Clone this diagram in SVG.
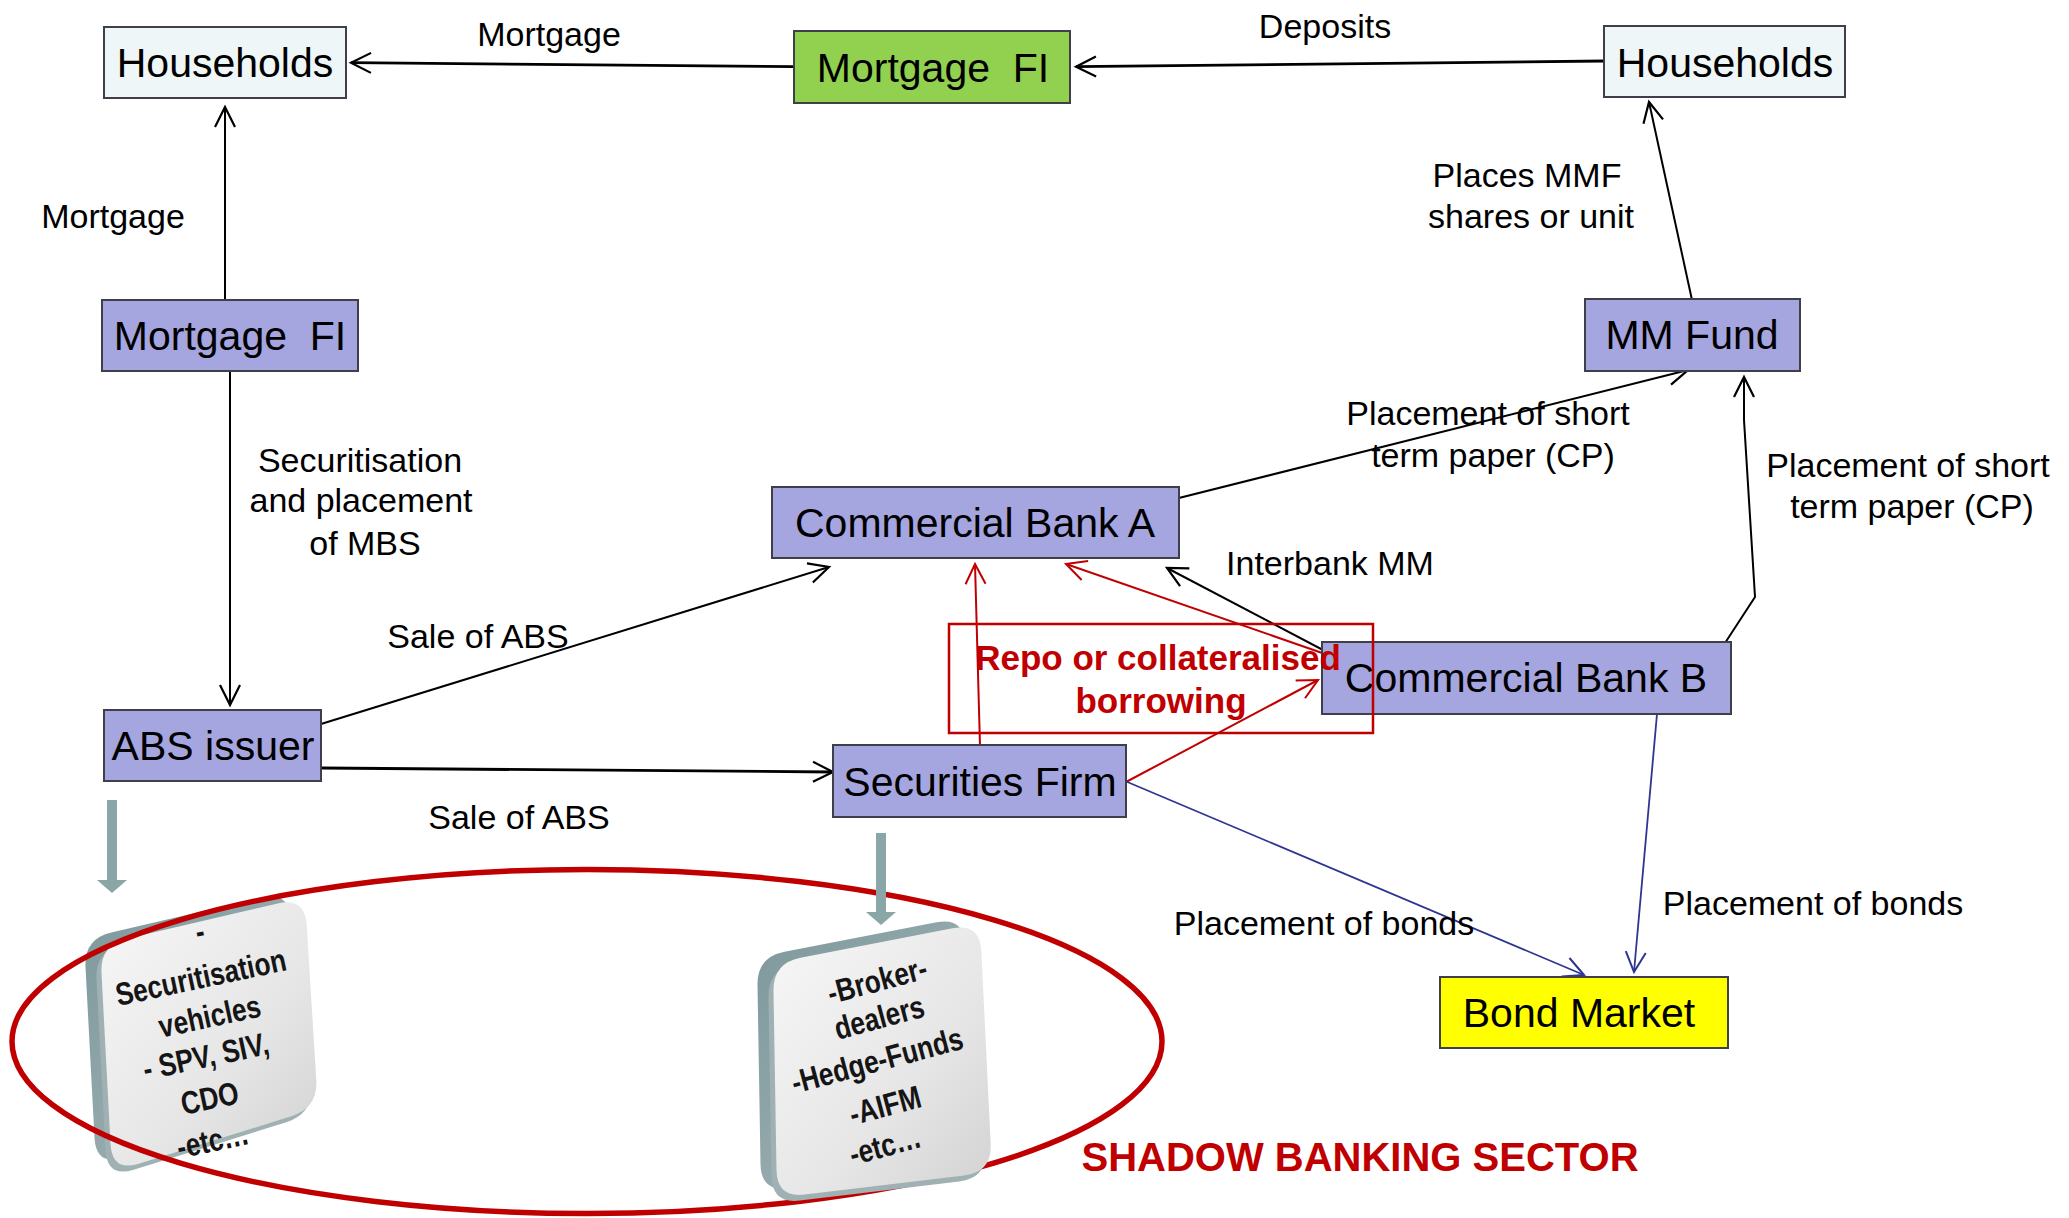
<svg xmlns="http://www.w3.org/2000/svg" width="2069" height="1218" viewBox="0 0 2069 1218">
<style>
.node{stroke:#3f3f4a;stroke-width:2}
.pur{fill:#a5a5df}
.hh{fill:#eef6f7}
.nt{font-family:"Liberation Sans",Arial,sans-serif;font-size:41px;fill:#000;text-anchor:middle;white-space:pre}
.lb{font-family:"Liberation Sans",Arial,sans-serif;font-size:34px;fill:#000;text-anchor:middle}
.red{font-family:"Liberation Sans",Arial,sans-serif;font-weight:bold;fill:#c00000;text-anchor:middle}
.ct{font-family:"Liberation Sans",Arial,sans-serif;font-weight:bold;font-size:32px;fill:#151515;text-anchor:middle}
.ck{fill:none;stroke:#000;stroke-width:2}
.ckt{fill:none;stroke:#000;stroke-width:2.8}
.cr{fill:none;stroke:#c00000;stroke-width:2}
.cb{fill:none;stroke:#2e3592;stroke-width:1.8}
</style>
<defs>
<marker id="ak" viewBox="-24 -13 27 26" refX="0" refY="0" markerWidth="27" markerHeight="26" markerUnits="userSpaceOnUse" orient="auto"><path d="M-20,-10 L0,0 L-20,10" fill="none" stroke="#000" stroke-width="2.2"/></marker>
<marker id="ar" viewBox="-24 -13 27 26" refX="0" refY="0" markerWidth="27" markerHeight="26" markerUnits="userSpaceOnUse" orient="auto"><path d="M-20,-10 L0,0 L-20,10" fill="none" stroke="#c00000" stroke-width="2"/></marker>
<marker id="ab" viewBox="-24 -13 27 26" refX="0" refY="0" markerWidth="27" markerHeight="26" markerUnits="userSpaceOnUse" orient="auto"><path d="M-20,-10 L0,0 L-20,10" fill="none" stroke="#2e3592" stroke-width="2"/></marker>
<linearGradient id="face" x1="0" y1="0" x2="1" y2="1"><stop offset="0" stop-color="#f7f7f7"/><stop offset="0.6" stop-color="#e6e6e6"/><stop offset="1" stop-color="#d2d2d2"/></linearGradient>
<linearGradient id="edge" x1="0" y1="0" x2="1" y2="1"><stop offset="0" stop-color="#7d989b"/><stop offset="1" stop-color="#a9b9bb"/></linearGradient>
</defs>

<g id="cards-left">
<path transform="translate(-16,-6)" d="M127.3,938.6 L277.7,903.4 Q305,897 306.7,924.9 L316.3,1080.1 Q318,1108 291.3,1116.3 L138.7,1163.7 Q112,1172 110.5,1144 L101.5,973 Q100,945 127.3,938.6 Z" fill="url(#edge)"/>
<path transform="translate(-5,6)" d="M127.3,938.6 L277.7,903.4 Q305,897 306.7,924.9 L316.3,1080.1 Q318,1108 291.3,1116.3 L138.7,1163.7 Q112,1172 110.5,1144 L101.5,973 Q100,945 127.3,938.6 Z" fill="#9fb1b3"/>
<path d="M127.3,938.6 L277.7,903.4 Q305,897 306.7,924.9 L316.3,1080.1 Q318,1108 291.3,1116.3 L138.7,1163.7 Q112,1172 110.5,1144 L101.5,973 Q100,945 127.3,938.6 Z" fill="url(#face)"/>
<text class="ct" transform="translate(202,942) rotate(-12) scale(0.82,1)">-</text>
<text class="ct" transform="translate(203,988) rotate(-12) scale(0.82,1)">Securitisation</text>
<text class="ct" transform="translate(212,1027) rotate(-12) scale(0.82,1)">vehicles</text>
<text class="ct" transform="translate(208,1067) rotate(-12) scale(0.82,1)">- SPV, SIV,</text>
<text class="ct" transform="translate(212,1109) rotate(-12) scale(0.82,1)">CDO</text>
<text class="ct" transform="translate(215,1151) rotate(-12) scale(0.82,1)">-etc…</text>
</g>

<ellipse id="shadow-ellipse" cx="587" cy="1041.5" rx="575" ry="172" fill="none" stroke="#c00000" stroke-width="5.5"/>

<g id="cards-right">
<path transform="translate(-16,-6)" d="M800.5,957.7 L952.5,928.3 Q980,923 981.3,951 L990.7,1144 Q992,1172 964.2,1175.4 L804.8,1194.6 Q777,1198 776.5,1170 L773.5,991 Q773,963 800.5,957.7 Z" fill="url(#edge)"/>
<path transform="translate(-5,6)" d="M800.5,957.7 L952.5,928.3 Q980,923 981.3,951 L990.7,1144 Q992,1172 964.2,1175.4 L804.8,1194.6 Q777,1198 776.5,1170 L773.5,991 Q773,963 800.5,957.7 Z" fill="#9fb1b3"/>
<path d="M800.5,957.7 L952.5,928.3 Q980,923 981.3,951 L990.7,1144 Q992,1172 964.2,1175.4 L804.8,1194.6 Q777,1198 776.5,1170 L773.5,991 Q773,963 800.5,957.7 Z" fill="url(#face)"/>
<text class="ct" transform="translate(880,991) rotate(-15) scale(0.82,1)">-Broker-</text>
<text class="ct" transform="translate(882,1028) rotate(-15) scale(0.82,1)">dealers</text>
<text class="ct" transform="translate(880,1071) rotate(-15) scale(0.82,1)">-Hedge-Funds</text>
<text class="ct" transform="translate(888,1116) rotate(-15) scale(0.82,1)">-AIFM</text>
<text class="ct" transform="translate(888,1156) rotate(-15) scale(0.82,1)">-etc…</text>
</g>

<g id="gray-arrows" fill="#8aa6a7">
<rect x="107" y="800" width="10" height="81"/>
<polygon points="97,880 127,880 112,893"/>
<rect x="876" y="833" width="10" height="80"/>
<polygon points="866,912 896,912 881,925"/>
</g>

<g id="connectors">
<line class="ckt" x1="794" y1="66.7" x2="351" y2="62.7" marker-end="url(#ak)"/>
<line class="ckt" x1="1604" y1="61" x2="1076" y2="66.7" marker-end="url(#ak)"/>
<line class="ck" x1="225" y1="300" x2="225" y2="107" marker-end="url(#ak)"/>
<line class="ck" x1="230" y1="371" x2="230" y2="705" marker-end="url(#ak)"/>
<line class="ck" x1="1692" y1="300" x2="1649" y2="102" marker-end="url(#ak)"/>
<line class="ck" x1="1163" y1="502" x2="1688" y2="370" marker-end="url(#ak)"/>
<polyline class="ck" points="1725,643 1755,597 1744,420 1744,377" marker-end="url(#ak)"/>
<line class="ck" x1="1342" y1="660" x2="1167" y2="568" marker-end="url(#ak)"/>
<line class="ck" x1="321" y1="724" x2="829" y2="567" marker-end="url(#ak)"/>
<line class="ckt" x1="321" y1="768" x2="833" y2="772" marker-end="url(#ak)"/>
<line class="cr" x1="980" y1="746" x2="975" y2="564" marker-end="url(#ar)"/>
<line class="cr" x1="1328" y1="655" x2="1066" y2="564" marker-end="url(#ar)"/>
<line class="cr" x1="1126" y1="782" x2="1318" y2="680" marker-end="url(#ar)"/>
<line class="cb" x1="1125" y1="781" x2="1584" y2="975" marker-end="url(#ab)"/>
<line class="cb" x1="1657" y1="714" x2="1634" y2="972" marker-end="url(#ab)"/>
</g>

<g id="households-left"><rect class="node hh" x="104" y="27" width="242" height="71"/><text class="nt" x="225" y="77">Households</text></g>
<g id="mortgage-fi-top"><rect class="node" fill="#92d050" x="794" y="31" width="276" height="72"/><text class="nt" x="933" y="82">Mortgage  FI</text></g>
<g id="households-right"><rect class="node hh" x="1604" y="26" width="241" height="71"/><text class="nt" x="1725" y="77">Households</text></g>
<g id="mortgage-fi-left"><rect class="node pur" x="102" y="300" width="256" height="71"/><text class="nt" x="230" y="350">Mortgage  FI</text></g>
<g id="mm-fund"><rect class="node pur" x="1585" y="299" width="215" height="72"/><text class="nt" x="1692" y="349">MM Fund</text></g>
<g id="commercial-bank-a"><rect class="node pur" x="772" y="487" width="407" height="71"/><text class="nt" x="975" y="537">Commercial Bank A</text></g>
<g id="abs-issuer"><rect class="node pur" x="104" y="710" width="217" height="71"/><text class="nt" x="213" y="760">ABS issuer</text></g>
<g id="securities-firm"><rect class="node pur" x="833" y="745" width="293" height="72"/><text class="nt" x="980" y="796">Securities Firm</text></g>
<g id="commercial-bank-b"><rect class="node pur" x="1322" y="642" width="409" height="72"/><text class="nt" x="1526" y="692">Commercial Bank B</text></g>
<g id="bond-market"><rect class="node" fill="#ffff00" x="1440" y="977" width="288" height="71"/><text class="nt" x="1579" y="1027">Bond Market</text></g>

<g id="repo-box">
<rect x="949" y="624" width="424" height="109" fill="none" stroke="#c00000" stroke-width="2.5"/>
<text class="red" font-size="35" x="1158" y="670">Repo or collateralised</text>
<text class="red" font-size="35" x="1161" y="713">borrowing</text>
</g>

<g id="labels">
<text class="lb" x="549" y="46">Mortgage</text>
<text class="lb" x="113" y="228">Mortgage</text>
<text class="lb" x="1325" y="38">Deposits</text>
<text class="lb" x="1527" y="187">Places MMF</text>
<text class="lb" x="1531" y="228">shares or unit</text>
<text class="lb" x="1488" y="425">Placement of short</text>
<text class="lb" x="1493" y="467">term paper (CP)</text>
<text class="lb" x="1908" y="477">Placement of short</text>
<text class="lb" x="1912" y="518">term paper (CP)</text>
<text class="lb" x="1330" y="575">Interbank MM</text>
<text class="lb" x="360" y="472">Securitisation</text>
<text class="lb" x="361" y="512">and placement</text>
<text class="lb" x="365" y="555">of MBS</text>
<text class="lb" x="478" y="648">Sale of ABS</text>
<text class="lb" x="519" y="829">Sale of ABS</text>
<text class="lb" x="1324" y="935">Placement of bonds</text>
<text class="lb" x="1813" y="915">Placement of bonds</text>
<text class="red" font-size="40" x="1360" y="1171">SHADOW BANKING SECTOR</text>
</g>
</svg>
